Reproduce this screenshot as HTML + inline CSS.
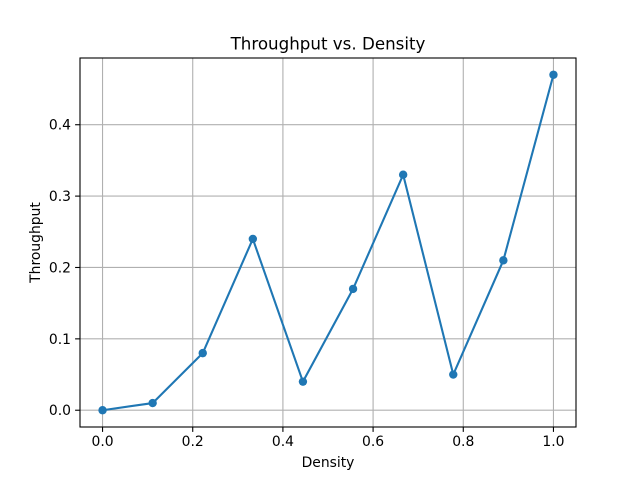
<!DOCTYPE html>
<html><head><meta charset="utf-8"><style>body{margin:0;background:#fff}svg{display:block}text{font-family:"DejaVu Sans","Liberation Sans",sans-serif;fill:#000}</style></head>
<body>
<svg id="chart" width="640" height="480" viewBox="0 0 640 480" xmlns="http://www.w3.org/2000/svg">
<rect width="640" height="480" fill="#fff"/>
<text x="328" y="49.5" font-size="16.7" text-anchor="middle">Throughput vs. Density</text>
<text x="328" y="467" font-size="13.9" text-anchor="middle">Density</text>
<text transform="translate(40,242.5) rotate(-90)" font-size="13.9" text-anchor="middle">Throughput</text>
<g id="grid"></g><g id="ticks"></g><g id="series"></g>
<rect x="80" y="58" width="496" height="369" fill="none" stroke="#000" stroke-width="1.1"/>
</svg>
<script>
const densities = [0, 0.1111, 0.2222, 0.3333, 0.4444, 0.5556, 0.6667, 0.7778, 0.8889, 1.0];
const throughputs = [0, 0.01, 0.08, 0.24, 0.04, 0.17, 0.33, 0.05, 0.21, 0.47];
const xTicks = [0.0, 0.2, 0.4, 0.6, 0.8, 1.0];
const yTicks = [0.0, 0.1, 0.2, 0.3, 0.4];
const xTickLabels = ["0.0","0.2","0.4","0.6","0.8","1.0"];
const yTickLabels = ["0.0","0.1","0.2","0.3","0.4"];
const L=80,R=576,T=58,B=427;
const xmin=Math.min(...densities),xmax=Math.max(...densities),xp=(xmax-xmin)*0.05;
const ymin=Math.min(...throughputs),ymax=Math.max(...throughputs),yp=(ymax-ymin)*0.05;
const sx=v=>L+(v-(xmin-xp))/((xmax+xp)-(xmin-xp))*(R-L);
const sy=v=>B-(v-(ymin-yp))/((ymax+yp)-(ymin-yp))*(B-T);
const NS="http://www.w3.org/2000/svg";
function mk(tag,attrs,parent){const e=document.createElementNS(NS,tag);for(const k in attrs)e.setAttribute(k,attrs[k]);document.getElementById(parent).appendChild(e);return e;}
xTicks.forEach((v,i)=>{const x=sx(v);
 const g=mk('line',{x1:x,x2:x,y1:T,y2:B,stroke:'#b0b0b0','stroke-width':1.1},'grid');
 
 
 const t=mk('line',{x1:x,x2:x,y1:B,y2:B+4.9,stroke:'#000','stroke-width':1.1},'ticks');
 
 
 const l=mk('text',{x:x,y:B+19,'font-size':13.9,'text-anchor':'middle'},'ticks');l.textContent=xTickLabels[i];
 
 
});
yTicks.forEach((v,i)=>{const y=sy(v);
 const g=mk('line',{x1:L,x2:R,y1:y,y2:y,stroke:'#b0b0b0','stroke-width':1.1},'grid');
 
 
 const t=mk('line',{x1:L-4.9,x2:L,y1:y,y2:y,stroke:'#000','stroke-width':1.1},'ticks');
 
 
 const l=mk('text',{x:L-9,y:y+5,'font-size':13.9,'text-anchor':'end'},'ticks');l.textContent=yTickLabels[i];
 
 
});
const pts=densities.map((d,i)=>sx(d)+','+sy(throughputs[i])).join(' ');
const pl=mk('polyline',{points:pts,fill:'none',stroke:'#1f77b4','stroke-width':2.1},'series');


densities.forEach((d,i)=>{const c=mk('circle',{cx:sx(d),cy:sy(throughputs[i]),r:4.2,fill:'#1f77b4'},'series');
 
 
});
</script>
</body></html>
